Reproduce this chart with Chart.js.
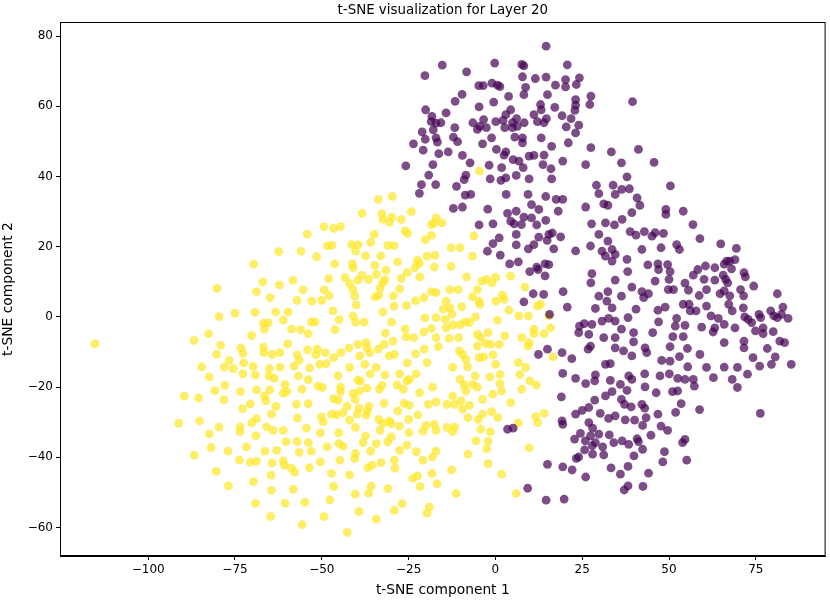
<!DOCTYPE html>
<html>
<head>
<meta charset="utf-8">
<script src="https://cdn.jsdelivr.net/npm/chart.js@4"></script>
<style>
  body { margin: 0; background: #fff; }
  #wrap { width: 830px; height: 600px; }
</style>
</head>
<body>
<div id="wrap"><canvas id="tsneChart" width="830" height="600"></canvas></div>
<script>
// axis ranges and ticks
const xRange = [-125.4, 95.1];
const yRange = [-68.1, 84.0];
const xTicks = [-100, -75, -50, -25, 0, 25, 50, 75];
const yTicks = [-60, -40, -20, 0, 20, 40, 60, 80];

// class 0 (purple) points, [x, y]
const purplePoints = [
  [-20.3,68.7],[-20.1,59.0],[-18.3,57.1],[-18.5,55.6],[-17.1,55.2],[-17.9,53.3],[-21.1,52.7],[-20.2,50.6],[-17.1,51.0],[-16.7,49.8],
  [-23.6,49.3],[-20.8,47.5],[-16.3,46.5],[-18.0,43.4],[-25.8,43.0],[-19.2,40.4],[-21.3,37.7],[-17.2,37.7],[-21.9,35.2],
  [14.6,77.1],[-15.3,71.7],[-8.3,69.8],[-0.2,72.3],[7.6,71.9],[8.2,71.5],[20.7,71.8],[-4.8,65.9],[-3.5,65.9],[-1.0,66.6],
  [0.6,66.0],[1.3,65.6],[7.8,68.4],[8.7,65.4],[11.5,67.9],[14.6,68.3],[17.3,66.0],[20.2,67.6],[20.2,65.5],[23.3,66.2],
  [24.2,68.1],[-9.6,63.4],[-11.6,61.4],[-14.2,58.1],[-15.7,55.3],[-4.7,59.8],[-0.5,61.2],[3.8,62.8],[8.2,63.3],[15.0,63.3],
  [13.0,60.5],[13.2,59.0],[17.1,59.7],[19.2,57.3],[23.1,61.9],[23.1,60.3],[22.9,58.8],[27.5,62.9],[27.2,60.5],[21.8,56.5],
  [24.0,54.6],[20.4,54.1],[23.1,52.4],[4.4,59.0],[3.0,57.6],[6.1,56.5],[8.3,55.3],[11.1,57.6],[12.1,55.6],[14.0,55.3],
  [14.7,56.5],[-6.5,55.3],[-4.5,54.3],[-3.4,56.2],[-5.2,53.4],[-2.6,53.9],[0.1,55.6],[2.2,56.0],[2.7,53.9],[4.9,53.9],
  [6.3,54.3],[4.9,55.3],[-11.7,53.9],[-12.1,51.2],[-10.9,49.9],[-13.6,47.0],[-3.7,49.3],[-1.1,51.0],[0.3,47.7],
  [2.5,46.1],[3.0,47.0],[5.6,51.2],[7.8,51.0],[7.8,49.6],[13.2,51.0],[16.2,48.6],[21.0,49.6],[27.5,48.2],[33.4,47.0],
  [-9.5,46.0],[-7.3,43.9],[-1.8,43.2],[1.8,42.5],[5.1,44.8],[6.8,44.4],[8.0,42.5],[9.7,45.8],[11.1,46.0],[14.0,46.1],
  [13.7,43.4],[16.0,42.2],[19.4,44.4],[26.0,43.4],[-8.5,40.4],[-11.2,37.2],[-9.0,39.1],[-1.5,39.3],[1.6,38.9],[3.0,39.6],
  [6.0,40.3],[9.7,39.3],[16.2,39.3],[3.1,34.9],[9.4,34.9],[14.5,34.3],[17.5,33.5],[19.4,33.5],[-8.7,34.7],[-7.1,34.9],
  [29.1,37.5],[29.8,35.1],[33.9,37.5],[34.5,34.9],
  [-12.1,30.9],[-9.5,31.3],[-2.2,30.7],[3.5,29.5],[6.0,30.1],[4.4,27.3],[5.4,26.5],[7.5,26.3],[8.2,28.4],[10.4,28.2],
  [11.9,26.2],[14.5,27.5],[10.4,32.0],[12.5,30.6],[18.1,30.1],[26.0,31.3],[31.2,32.2],[32.4,31.8],[-4.7,26.2],[-0.7,26.5],
  [1.1,22.5],[-0.7,20.9],[-2.3,18.7],[1.4,17.6],[6.0,23.5],[6.0,20.5],[9.5,19.4],[11.1,20.6],[12.5,22.7],[15.4,23.5],
  [16.4,23.9],[18.8,22.8],[14.9,21.8],[16.8,19.4],[23.1,18.8],[27.7,26.5],[31.7,26.8],[34.3,26.2],[29.8,23.5],[32.4,21.6],
  [27.4,20.2],[30.7,18.7],[33.6,19.2],[34.5,17.8],[31.7,17.3],[33.6,15.9],[4.1,15.1],[6.6,15.7],[9.9,12.9],[11.9,14.2],
  [12.3,13.5],[14.3,15.1],[15.4,14.9],[14.3,11.7],[27.8,12.3],[27.5,9.7],[34.5,10.5],[10.9,6.6],[13.9,6.4],[19.5,7.2],
  [8.2,4.3],[15.6,0.7],[20.7,2.8],[29.8,5.9],[32.4,7.2],[32.1,4.5],[28.8,2.4],[33.6,2.6],[24.2,-2.6],[25.6,-1.9],
  [27.8,-2.1],[30.7,-1.2],[32.6,-0.4],[34.5,-1.2],[24.0,-4.5],[26.9,-5.0],[31.2,-5.9],[34.5,-5.9],[27.4,-8.3],[26.7,-9.2],
  [34.5,-8.8],[12.4,-10.7],[15.0,-9.2],[19.2,-10.2],[22.0,-11.9],[31.7,-13.5],[33.1,-13.3],
  [19.4,-16.1],[23.1,-17.5],[26.0,-19.0],[28.6,-18.2],[28.8,-16.5],[33.1,-18.1],[33.6,-21.3],[31.7,-22.5],[28.6,-23.7],
  [19.0,-22.8],[19.2,-29.6],[19.4,-30.6],[23.1,-27.7],[25.0,-26.6],[26.9,-25.8],[30.2,-27.5],[32.6,-28.9],[34.5,-28.2],
  [26.9,-30.1],[28.0,-31.7],[24.5,-33.2],[22.8,-34.8],[25.9,-35.3],[27.4,-33.9],[29.8,-33.4],[32.8,-33.6],[28.8,-35.8],
  [30.9,-37.0],[34.1,-35.8],[25.7,-37.9],[27.9,-36.7],[28.0,-39.1],[24.0,-39.9],[23.3,-40.3],[31.2,-39.3],[3.5,-32.0],
  [5.1,-31.7],[15.0,-42.0],[19.4,-42.7],[22.1,-43.6],[26.0,-45.6],[33.3,-43.0],[9.3,-48.8],[14.6,-52.2],[19.8,-51.9],
  [39.5,61.3],[41.2,47.7],[36.3,43.9],[45.7,44.0],[37.9,39.9],[50.4,37.3],[36.4,36.3],[38.6,36.5],[40.8,33.9],
  [41.6,31.8],[39.3,29.7],[36.5,27.8],[49.1,30.6],[49.1,29.2],[54.1,30.1],[56.9,26.3],[38.8,24.3],[40.5,23.3],[42.9,24.3],
  [45.1,23.0],[46.0,24.0],[48.4,23.8],[58.9,22.3],[64.9,20.8],[69.4,19.5],[42.2,19.2],[47.7,19.7],[52.2,20.6],[53.0,19.2],
  [37.9,16.4],[43.9,14.8],[46.8,15.1],[47.0,13.5],[49.6,14.9],[50.3,12.9],[38.1,12.9],[46.0,10.2],[50.0,10.7],[58.3,13.5],
  [60.5,14.5],[57.0,11.9],[60.1,10.7],[63.2,14.0],[63.2,10.5],[65.9,15.0],[66.6,15.9],[67.5,15.9],[69.0,16.3],[68.0,13.7],
  [65.6,11.9],[66.3,10.7],[66.9,9.7],[71.6,12.6],[72.0,11.4],[74.4,8.8],[70.6,7.8],[71.5,6.0],[81.2,6.6],[39.3,8.5],
  [42.2,7.2],[42.7,5.5],[44.1,6.6],[49.8,7.8],[51.3,7.8],[54.6,9.6],[55.6,7.6],[58.7,6.1],[60.8,7.8],[64.7,6.6],
  [65.9,7.4],[67.5,6.0],[67.2,3.6],[68.2,1.7],[36.3,5.9],[40.5,2.2],[48.9,2.8],[46.8,1.9],[54.1,3.6],[55.8,3.6],
  [56.1,1.7],[57.8,1.7],[60.8,3.1],[71.4,2.6],[38.2,-0.2],[47.0,-1.4],[52.2,-0.4],[51.8,-2.6],[54.6,-2.4],[59.4,-2.9],
  [62.1,0.3],[64.2,-0.4],[63.2,-3.1],[62.7,-4.3],[65.9,-2.1],[69.0,-3.1],[71.8,0.0],[72.8,-0.7],[73.8,-1.6],[75.9,0.7],
  [76.4,-0.2],[74.9,-4.0],[77.1,-3.1],[77.1,-4.8],[79.3,1.7],[80.2,0.3],[81.2,-0.2],[82.4,0.7],[82.8,2.8],[84.3,-0.4],
  [80.0,-4.2],[81.9,-6.9],[83.3,-7.3],[85.2,-13.5],[45.3,-4.5],[39.8,-4.5],[39.8,-7.1],[36.3,-3.5],[43.1,-8.8],[43.6,-10.2],
  [39.3,-11.1],[50.3,-8.5],[51.1,-5.6],[54.1,-5.6],[55.3,-9.0],[53.0,-11.3],[58.9,-10.7],[47.9,-12.4],[50.3,-12.6],[55.4,-14.2],
  [60.8,-14.4],[65.9,-7.3],[65.9,-14.3],[69.7,-14.4],[71.6,-6.9],[71.6,-8.8],[74.2,-11.6],[76.1,-14.0],[78.3,-9.0],[79.5,-13.5],
  [80.6,-11.4],[36.9,-9.7],
  [38.4,-16.8],[39.3,-17.8],[43.0,-16.2],[47.4,-16.8],[50.1,-16.2],[52.5,-17.5],[54.6,-17.8],[57.0,-17.8],[57.3,-19.7],
  [62.8,-17.3],[68.2,-17.8],[69.7,-20.1],[72.6,-16.3],[36.0,-19.2],[37.9,-20.9],[43.1,-19.9],[46.3,-21.6],[51.0,-21.3],
  [52.5,-21.1],[36.3,-23.5],[37.2,-24.9],[39.1,-25.6],[42.2,-24.9],[43.0,-26.0],[53.5,-24.7],[51.9,-27.2],[58.8,-26.4],
  [46.8,-27.7],[43.4,-28.7],[37.4,-29.3],[40.1,-29.4],[42.4,-30.9],[47.7,-31.1],[49.6,-32.3],[44.8,-33.7],[36.5,-35.3],
  [38.4,-36.3],[40.8,-34.7],[41.2,-35.5],[42.4,-37.7],[39.9,-39.6],[48.7,-38.4],[48.2,-41.3],[53.9,-35.8],[54.6,-34.9],
  [55.1,-40.8],[38.2,-42.6],[36.0,-44.8],[44.1,-44.5],[38.2,-48.1],[37.1,-49.3],[42.5,-48.3],[76.3,-27.5]
];

// class 1 (yellow) points, [x, y]
const yellowPoints = [
  [-69.6,15.0],[-80.2,8.1],[-68.8,7.2],[-79.6,0.1],[-75.0,1.1],[-69.2,1.3],[-115.3,-7.7],[-86.8,-6.7],[-82.6,-4.8],[-79.1,-8.1],
  [-70.2,-5.3],[-73.3,-8.8],[-72.7,-10.4],[-80.3,-10.7],[-76.7,-12.4],[-72.5,-13.1],[-69.8,-14.1],[-84.6,-14.2],[-78.1,-14.3],[-75.5,-14.7],
  [-72.7,-16.2],[-69.1,-16.5],[-82.4,-17.1],[-77.9,-19.5],[-80.8,-21.0],[-73.4,-21.3],[-68.8,-20.8],[-89.6,-22.6],[-85.5,-23.1],[-78.2,-23.6],
  [-70.6,-24.8],[-72.8,-26.1],[-91.2,-30.3],[-85.2,-29.6],[-79.6,-31.4],[-82.4,-33.3],[-73.5,-31.3],[-73.6,-32.7],[-70.2,-30.2],[-68.8,-29.0],
  [-69.0,-33.8],[-81.9,-37.2],[-77.0,-38.2],[-71.7,-37.0],[-86.7,-39.4],[-73.7,-40.8],[-70.6,-41.4],[-68.8,-41.1],[-80.4,-44.0],[-76.9,-48.1],
  [-69.7,-46.9],[-69.1,-53.1],
  [-33.7,33.5],[-29.7,34.3],[-4.6,41.5],
  [-38.4,29.5],[-32.7,29.4],[-32.4,27.8],[-29.8,28.4],[-30.5,26.9],[-27.1,27.8],[-24.2,30.0],[-49.4,25.7],[-46.6,25.2],[-44.6,25.7],
  [-54.2,23.6],[-26.0,24.5],[-25.3,23.8],[-18.4,26.3],[-17.7,26.7],[-17.1,28.2],[-34.9,23.5],[-20.2,22.0],[-18.4,23.2],[-35.9,21.2],
  [-48.4,20.2],[-47.1,20.4],[-41.4,20.6],[-39.5,20.6],[-40.3,18.7],[-31.0,20.4],[-29.2,20.3],[-62.4,18.6],[-56.0,18.7],[-51.5,17.2],
  [-37.4,17.4],[-33.0,17.4],[-28.2,15.7],[-22.5,16.1],[-21.9,15.2],[-19.7,17.3],[-17.4,17.5],[-17.6,14.2],[-46.3,15.1],[-41.2,15.1],
  [-41.0,14.0],[-34.7,14.7],[-31.5,13.3],[-23.2,14.0],[-25.4,12.6],[-38.4,11.9],[-36.5,10.7],[-34.3,12.1],[-43.3,11.2],[-39.6,10.5],
  [-48.0,10.9],[-42.0,9.5],[-31.8,10.6],[-32.5,9.7],[-27.1,11.0],[-21.8,11.4],[-67.0,10.0],[-62.2,9.1],[-58.3,10.4],[-55.4,7.7],
  [-49.3,7.7],[-47.9,6.1],[-50.0,4.7],[-52.9,4.5],[-57.1,4.7],[-64.9,5.5],[-41.0,7.8],[-40.5,5.9],[-33.2,8.1],[-33.6,6.1],
  [-34.6,5.7],[-27.6,8.0],[-29.4,6.0],[-29.2,3.1],[-25.6,3.2],[-23.0,4.6],[-20.6,5.5],[-18.4,7.2],[-17.1,6.9],[-40.1,3.4],
  [-63.3,1.4],[-59.7,1.4],[-61.1,-0.9],[-46.8,1.7],[-45.0,-0.8],[-41.0,0.3],[-40.3,-1.5],[-37.8,-1.5],[-32.4,1.4],[-29.9,-1.5],
  [-20.3,-0.3],[-17.1,-0.2],[-66.8,-1.8],[-65.4,-1.7],[-66.5,-3.5],[-58.7,-3.5],[-56.1,-3.6],[-53.9,-4.8],[-53.0,-1.5],[-51.9,-1.4],
  [-46.2,-3.6],[-31.7,-4.6],[-26.0,-3.4],[-25.7,-5.7],[-23.5,-5.9],[-20.6,-4.3],[-18.4,-3.3],[-17.1,-5.9],[-59.8,-7.7],[-66.8,-8.6],
  [-66.7,-10.2],[-64.3,-10.7],[-62.1,-10.2],[-54.1,-9.4],[-51.3,-9.2],[-49.0,-10.2],[-51.7,-10.8],[-57.1,-10.8],[-56.5,-12.4],[-58.0,-14.0],
  [-62.0,-14.3],[-65.1,-14.7],[-46.6,-11.6],[-44.5,-10.2],[-42.2,-8.8],[-39.6,-7.8],[-37.2,-7.3],[-37.0,-8.8],[-36.2,-10.2],[-33.7,-9.2],
  [-32.1,-7.8],[-29.5,-6.9],[-30.6,-11.1],[-29.1,-10.7],[-25.4,-13.1],[-23.0,-10.5],[-20.5,-9.2],[-16.4,-8.5],[-19.7,-13.0],[-39.1,-11.1],
  [-37.6,-13.5],[-53.5,-14.5],[-50.6,-13.5],[-48.7,-13.3],[-42.0,-14.4],[-34.3,-14.4],
  [-65.2,-16.8],[-63.7,-17.5],[-56.7,-16.8],[-53.9,-17.9],[-45.3,-16.7],[-39.6,-18.0],[-38.9,-18.3],[-36.0,-16.2],[-31.8,-16.5],[-27.6,-16.2],
  [-25.5,-18.2],[-24.7,-17.8],[-22.8,-16.2],[-18.1,-20.0],[-60.6,-19.2],[-60.1,-21.3],[-61.1,-21.7],[-65.0,-20.8],[-55.7,-20.6],[-51.1,-19.7],
  [-49.8,-20.1],[-44.6,-20.0],[-44.6,-21.3],[-41.0,-21.8],[-39.1,-21.1],[-37.0,-20.3],[-33.4,-20.6],[-32.6,-19.5],[-28.3,-19.4],[-26.5,-20.6],
  [-21.8,-21.6],[-66.1,-23.9],[-66.5,-22.5],[-63.2,-25.5],[-57.3,-24.9],[-53.9,-24.7],[-46.6,-23.3],[-45.3,-23.7],[-42.7,-25.5],[-40.4,-23.5],
  [-39.3,-26.0],[-36.4,-25.4],[-32.1,-24.6],[-26.3,-24.6],[-24.8,-25.2],[-28.1,-26.8],[-19.3,-24.9],[-17.1,-24.2],[-64.5,-27.7],[-57.0,-28.8],
  [-50.1,-28.5],[-49.6,-29.9],[-47.2,-27.7],[-45.8,-27.9],[-43.9,-27.3],[-42.0,-29.4],[-39.8,-27.7],[-37.2,-28.0],[-36.9,-26.8],[-33.6,-29.2],
  [-32.4,-30.3],[-30.5,-29.6],[-30.0,-30.4],[-27.6,-31.1],[-25.0,-29.2],[-22.3,-27.9],[-20.0,-30.9],[-17.6,-30.6],[-20.9,-32.5],[-17.1,-32.3],
  [-65.9,-31.3],[-64.0,-32.3],[-61.1,-32.3],[-54.4,-31.7],[-50.4,-33.0],[-45.1,-33.0],[-40.3,-31.5],[-37.4,-33.9],[-38.1,-35.8],[-33.2,-32.3],
  [-30.0,-34.2],[-31.0,-35.6],[-24.9,-33.0],[-60.3,-35.5],[-57.1,-35.5],[-53.9,-35.8],[-48.5,-37.0],[-45.1,-36.1],[-43.9,-36.8],[-34.3,-36.1],
  [-35.9,-38.2],[-27.6,-38.0],[-25.5,-36.5],[-22.8,-38.4],[-18.1,-39.9],[-17.1,-38.2],[-66.4,-38.2],[-63.0,-38.0],[-56.5,-38.6],[-53.0,-38.2],
  [-40.3,-38.9],[-40.5,-40.3],[-44.8,-40.8],[-50.4,-41.3],[-61.1,-41.0],[-64.3,-41.6],[-60.8,-42.2],[-58.7,-43.1],[-57.8,-44.3],[-53.6,-42.9],
  [-47.2,-44.6],[-42.0,-45.0],[-36.7,-42.9],[-35.5,-42.2],[-32.9,-41.5],[-29.1,-40.8],[-28.9,-43.1],[-20.9,-40.8],[-18.3,-44.6],[-16.8,-47.5],
  [-23.8,-46.0],[-22.4,-45.3],[-21.7,-48.3],[-64.6,-45.1],[-46.6,-48.3],[-35.8,-48.2],[-36.5,-50.2],[-31.0,-48.9],[-64.5,-49.4],[-58.2,-49.1],
  [-40.4,-50.5],[-60.6,-53.1],[-54.9,-52.8],[-47.7,-52.1],[-39.3,-55.4],[-26.9,-53.2],[-29.1,-55.1],[-19.0,-54.1],[-19.7,-55.9],[-64.7,-56.8],
  [-49.4,-56.9],[-34.3,-57.6],[-55.7,-59.2],[-42.7,-61.4],
  [-15.4,26.8],[-6.2,23.1],[-12.8,19.7],[-10.2,19.7],[-6.6,17.3],[-12.8,14.4],[-8.3,11.4],[-3.9,10.2],[-2.6,10.7],[-1.0,9.7],
  [0.1,11.3],[4.4,11.6],[8.5,8.5],[-13.1,7.8],[-10.7,7.8],[-5.2,7.8],[-6.6,5.7],[-4.7,4.5],[-4.5,3.6],[2.0,6.2],
  [2.5,5.0],[0.1,4.5],[3.9,1.9],[6.8,0.3],[9.5,0.3],[12.1,3.1],[13.0,3.6],[15.4,0.3],[15.9,-3.1],[-14.2,4.5],
  [-9.7,2.9],[-15.0,2.2],[-13.1,2.6],[-12.5,0.7],[-5.8,0.0],[-8.7,-1.4],[-7.5,-1.6],[-14.4,-0.7],[0.6,-0.9],[-14.2,-3.1],
  [-12.3,-2.3],[-10.2,-2.3],[-13.3,-6.1],[-10.6,-5.9],[-5.2,-5.0],[-4.2,-5.9],[-2.1,-4.5],[-1.3,-7.8],[1.1,-7.8],[2.7,-5.4],
  [-2.8,-7.6],[-5.2,-8.3],[7.6,-5.9],[9.7,-7.3],[11.1,-3.5],[11.1,-4.8],[14.0,-4.8],[9.4,-8.3],[-10.4,-9.7],[-9.5,-10.7],
  [-8.5,-12.1],[-8.0,-14.2],[-12.3,-14.4],[-4.7,-11.6],[-3.4,-11.4],[-0.7,-10.8],[0.1,-13.5],[6.6,-13.0],[8.7,-14.4],[16.6,-11.4],
  [-10.2,-17.8],[-5.8,-16.8],[-1.6,-17.1],[1.35,-16.4],[7.0,-16.4],[9.9,-18.2],[11.8,-19.4],[7.6,-20.6],[-9.0,-19.4],[-6.6,-19.2],
  [-5.2,-20.0],[1.3,-19.0],[1.8,-21.1],[-0.8,-22.0],[-3.7,-23.5],[-8.5,-21.1],[-12.3,-22.5],[-14.0,-24.9],[-11.8,-24.9],[-9.9,-23.9],
  [-7.5,-25.2],[-9.5,-26.3],[-7.9,-28.7],[-4.9,-29.2],[-3.7,-27.7],[-1.1,-27.0],[0.7,-28.7],[4.4,-24.4],[11.6,-28.4],[12.2,-30.1],
  [14.1,-27.5],[6.6,-30.2],[-14.0,-31.5],[-11.7,-31.3],[-12.3,-32.7],[-4.2,-32.0],[-1.5,-32.7],[-5.6,-35.3],[-2.1,-35.4],[-2.5,-37.6],
  [9.7,-37.3],[-7.9,-39.1],[-2.1,-41.8],[-12.6,-43.6],[1.8,-44.8],[-11.3,-50.3],[6.0,-50.3]
];

const titleText = 't-SNE visualization for Layer 20';
const xLabel = 't-SNE component 1';
const yLabel = 't-SNE component 2';

const toXY = pts => pts.map(p => ({ x: p[0], y: p[1] }));
const fmt = v => String(v).replace('-', '\u2212');
const tickFont = { family: 'DejaVu Sans', size: 12 };
const labelFont = { family: 'DejaVu Sans', size: 13.8 };

// box round the plot area like matplotlib spines, title centred over the axes
const frame = {
  id: 'frame',
  afterDraw(chart) {
    const a = chart.chartArea;
    const c = chart.ctx;
    c.save();
    c.strokeStyle = '#000';
    c.lineWidth = 1;
    c.strokeRect(a.left + 0.5, a.top + 0.5, a.right - a.left - 1, a.bottom - a.top - 1);
    c.fillStyle = '#000';
    c.font = '13.4px "DejaVu Sans"';
    c.textAlign = 'center';
    c.textBaseline = 'bottom';
    c.fillText(titleText, (a.left + a.right) / 2, a.top - 5);
    c.restore();
  }
};

new Chart(document.getElementById('tsneChart'), {
  type: 'scatter',
  data: {
    datasets: [
      { label: '0', data: toXY(purplePoints), backgroundColor: 'rgba(68,1,84,0.7)', borderWidth: 0, pointRadius: 4.4 },
      { label: '1', data: toXY(yellowPoints), backgroundColor: 'rgba(253,231,37,0.7)', borderWidth: 0, pointRadius: 4.4 }
    ]
  },
  options: {
    responsive: false,
    animation: false,
    events: [],
    layout: { padding: { left: 0, right: 1, top: 22, bottom: 0 } },
    plugins: {
      legend: { display: false },
      tooltip: { enabled: false },
      title: { display: false }
    },
    scales: {
      x: {
        type: 'linear',
        min: xRange[0],
        max: xRange[1],
        afterBuildTicks: s => { s.ticks = xTicks.map(v => ({ value: v })); },
        afterFit: s => { s.height = 44; },
        ticks: { color: '#000', font: tickFont, padding: 3, callback: fmt },
        grid: { display: true, drawOnChartArea: false, drawTicks: true, tickLength: 4, color: '#000' },
        border: { display: true, color: '#000' },
        title: { display: true, text: xLabel, color: '#000', font: labelFont, padding: { top: 0, bottom: 1 } }
      },
      y: {
        type: 'linear',
        min: yRange[0],
        max: yRange[1],
        afterBuildTicks: s => { s.ticks = yTicks.map(v => ({ value: v })); },
        afterFit: s => { s.width = 60; },
        ticks: { color: '#000', font: tickFont, padding: 3, callback: fmt },
        grid: { display: true, drawOnChartArea: false, drawTicks: true, tickLength: 4, color: '#000' },
        border: { display: true, color: '#000' },
        title: { display: true, text: yLabel, color: '#000', font: labelFont, padding: { top: 0, bottom: 0 } }
      }
    }
  },
  plugins: [frame]
});
</script>
</body>
</html>
